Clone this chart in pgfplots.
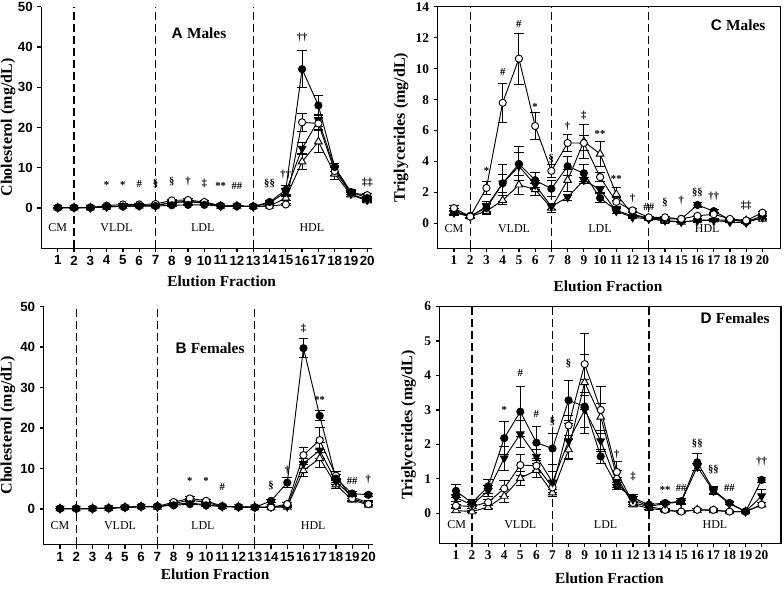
\documentclass[border=0pt]{standalone}
\usepackage{fontspec}
\setmainfont{Liberation Serif}
\setsansfont{Liberation Sans}
\usepackage{pgfplots}
\usepackage{pgfplotstable}
\pgfplotsset{compat=1.18}

% columns: a = filled circle, b = open circle, c = filled down triangle, d = open up triangle
\pgfplotstableread{
x a ea b eb c ec d ed
1 0.1 0.1 0.1 0.1 0.1 0.1 0.1 0.1
2 0.1 0.1 0.1 0.1 0.1 0.1 0.1 0.1
3 0.1 0.1 0.15 0.1 0.1 0.1 0.1 0.1
4 0.3 0.1 0.6 0.1 0.3 0.1 0.3 0.1
5 0.4 0.1 0.9 0.2 0.5 0.1 0.5 0.1
6 0.5 0.1 0.9 0.2 0.6 0.1 0.6 0.1
7 0.5 0.1 1.0 0.2 0.7 0.1 0.6 0.1
8 0.7 0.2 1.9 0.3 1.3 0.2 1.4 0.2
9 0.8 0.2 2.0 0.3 1.6 0.2 1.7 0.2
10 0.8 0.2 1.5 0.3 1.2 0.2 1.3 0.2
11 0.5 0.1 0.6 0.1 0.5 0.1 0.5 0.1
12 0.5 0.1 0.5 0.1 0.5 0.1 0.5 0.1
13 0.4 0.1 0.4 0.1 0.4 0.1 0.4 0.1
14 1.5 0.4 0.5 0.1 1.2 0.3 0.5 0.1
15 4.5 1.0 0.9 0.3 4.0 0.8 2.5 0.5
16 34.5 4.6 21.3 2.3 14.8 1.5 11.5 2.0
17 25.5 2.5 21.0 1.5 21.8 1.5 16.5 2.8
18 10.2 1.0 9.2 1.0 10.0 1.0 8.5 1.5
19 4.0 0.5 3.8 0.5 3.5 0.5 3.3 0.5
20 2.5 0.5 3.2 0.5 2.0 0.4 1.8 0.4
}\tabA

\pgfplotstableread{
x a ea b eb c ec d ed
1 0.1 0.1 0.1 0.1 0.1 0.1 0.1 0.1
2 0.1 0.1 0.1 0.1 0.1 0.1 0.1 0.1
3 0.1 0.1 0.1 0.1 0.1 0.1 0.1 0.1
4 0.2 0.1 0.2 0.1 0.2 0.1 0.2 0.1
5 0.4 0.1 0.4 0.1 0.4 0.1 0.4 0.1
6 0.6 0.1 0.6 0.1 0.6 0.1 0.6 0.1
7 0.7 0.1 0.6 0.1 0.5 0.1 0.5 0.1
8 0.9 0.2 1.7 0.3 1.1 0.2 1.3 0.2
9 1.2 0.2 2.6 0.4 1.5 0.3 2.2 0.3
10 0.9 0.2 2.0 0.3 1.0 0.2 1.6 0.3
11 0.6 0.1 0.7 0.1 0.6 0.1 0.6 0.1
12 0.5 0.1 0.5 0.1 0.5 0.1 0.5 0.1
13 0.4 0.1 0.4 0.1 0.4 0.1 0.4 0.1
14 2.0 0.3 0.4 0.1 0.5 0.1 0.4 0.1
15 6.5 1.3 1.2 0.3 0.6 0.2 0.5 0.1
16 39.7 2.4 13.3 1.8 11.2 1.2 9.5 1.5
17 23.0 1.2 17.0 3.0 14.5 2.0 12.5 2.3
18 7.5 1.0 8.2 1.0 6.8 0.8 6.0 1.0
19 3.8 0.5 2.6 0.4 3.0 0.4 2.2 0.3
20 3.5 0.4 1.2 0.3 1.5 0.3 1.0 0.2
}\tabB

\pgfplotstableread{
x a ea b eb c ec d ed
1 0.8 0.2 1.0 0.2 0.7 0.15 0.8 0.2
2 0.5 0.1 0.45 0.1 0.45 0.1 0.45 0.1
3 1.0 0.3 2.3 0.4 1.1 0.3 0.8 0.2
4 2.6 1.2 7.8 1.25 2.6 0.6 1.5 0.3
5 3.85 1.1 10.65 1.65 3.7 0.9 2.5 0.6
6 2.8 0.5 6.3 0.9 2.5 0.3 2.2 0.4
7 2.25 0.5 3.4 0.4 1.1 0.2 1.0 0.3
8 3.7 0.6 5.2 0.55 1.7 0.2 2.8 0.7
9 3.25 0.55 5.2 0.5 2.8 0.2 5.3 1.1
10 1.65 0.3 3.0 0.3 2.2 0.2 4.5 0.8
11 0.85 0.2 1.4 0.3 0.8 0.15 1.9 0.4
12 0.5 0.1 0.85 0.1 0.4 0.1 0.6 0.1
13 0.35 0.05 0.4 0.05 0.3 0.05 0.35 0.05
14 0.3 0.05 0.4 0.05 0.2 0.05 0.15 0.05
15 0.3 0.05 0.3 0.05 0.1 0.05 0.1 0.05
16 1.2 0.15 0.5 0.05 0.2 0.05 0.2 0.05
17 0.8 0.1 0.6 0.05 0.2 0.05 0.25 0.05
18 0.25 0.05 0.3 0.05 0.1 0.05 0.2 0.05
19 0.1 0.05 0.2 0.05 0.05 0.05 0.2 0.05
20 0.5 0.05 0.7 0.05 0.4 0.05 0.3 0.05
}\tabC

\pgfplotstableread{
x a ea b eb c ec d ed
1 0.65 0.2 0.22 0.05 0.45 0.1 0.08 0.05
2 0.3 0.1 0.2 0.05 0.25 0.1 0.05 0.03
3 0.78 0.2 0.32 0.08 0.65 0.15 0.18 0.05
4 2.18 0.48 0.72 0.22 1.6 0.35 0.5 0.2
5 2.95 0.72 1.4 0.3 2.3 0.4 1.02 0.2
6 2.05 0.47 1.38 0.15 1.65 0.2 1.25 0.2
7 1.88 0.45 0.75 0.2 0.9 0.3 0.6 0.1
8 3.28 0.58 2.55 0.3 2.1 0.5 1.85 0.3
9 3.1 0.78 4.33 0.9 3.0 0.5 3.8 0.8
10 1.65 0.2 3.0 0.68 2.1 0.3 2.8 0.4
11 0.8 0.1 1.2 0.3 0.9 0.15 1.05 0.2
12 0.45 0.1 0.3 0.05 0.4 0.1 0.25 0.05
13 0.25 0.03 0.2 0.03 0.2 0.03 0.15 0.03
14 0.3 0.05 0.1 0.03 0.28 0.03 0.08 0.03
15 0.35 0.08 0.05 0.03 0.33 0.05 0.05 0.03
16 1.48 0.25 0.1 0.03 1.35 0.1 0.1 0.03
17 0.68 0.1 0.1 0.03 0.65 0.1 0.08 0.03
18 0.3 0.05 0.05 0.03 0.28 0.03 0.05 0.03
19 0.05 0.03 0.05 0.03 0.05 0.03 0.05 0.03
20 0.97 0.07 0.25 0.05 0.5 0.2 0.25 0.05
}\tabD

\newcommand{\annfont}{\fontsize{8}{9}\selectfont\bfseries}
\newcommand{\regfont}{\fontsize{9}{10}\selectfont}
\newcommand{\ann}[3]{\node[font=\annfont,inner sep=0pt] at (axis cs:#1,#2) {#3};}

\pgfplotsset{
  errs/.style={error bars/.cd, y dir=both, y explicit,
    error bar style={line width=0.7pt,solid,black},
    error mark options={rotate=90, mark size=3.6pt, line width=0.7pt,black}},
  sA/.style={black, line width=0.7pt, mark=*, mark size=2.7pt, mark options={fill=black,solid}, errs},
  sB/.style={black, line width=0.7pt, mark=*, mark size=2.7pt, mark options={fill=white,solid}, errs},
  sC/.style={black, line width=0.7pt, mark=triangle*, mark size=3.3pt, mark options={fill=black,rotate=180,solid}, errs},
  sD/.style={black, line width=0.7pt, mark=triangle*, mark size=3.3pt, mark options={fill=white,solid}, errs},
  vdash/.style={black, line width=0.9pt, dash pattern=on 6pt off 3pt, mark=none, forget plot},
  panel/.style={scale only axis, clip=false, xmin=0, xtick={1,...,20},
    tick align=outside, major tick length=3pt, minor tick num=0,
    axis line style={line width=0.9pt},
    every tick/.style={black, line width=0.9pt},
    /pgf/number format/assume math mode=true,
    xticklabel style={yshift=1pt},
    xlabel={Elution Fraction},
    label style={font=\fontsize{11.5}{12}\selectfont\bfseries},
    ylabel style={font=\fontsize{12}{13}\selectfont\bfseries, rotate=0},
  },
  sansticks/.style={ticklabel style={font=\fontsize{10}{11}\selectfont\sffamily\bfseries}},
  serifticks/.style={ticklabel style={font=\fontsize{10}{11}\selectfont\bfseries}},
}

\begin{document}
\begin{tikzpicture}
\path[use as bounding box] (0,0) rectangle (588pt,441.75pt);

% ---------------- Panel A ----------------
\begin{axis}[panel, sansticks, at={(31.1pt,255.5pt)}, anchor=south west,
  width=248pt, height=181.2pt, xmax=20.3, ymin=-10, ymax=50, ytick={0,10,...,50},
  axis x line*=bottom, axis y line*=left,
  ylabel={Cholesterol (mg/dL)},
  xlabel style={at={(axis description cs:0.545,-0.135)}, anchor=center},
  ylabel style={at={(axis description cs:-0.101,0.5)}, anchor=center}]
\addplot[vdash] coordinates {(2,-10) (2,50)};
\addplot[vdash] coordinates {(7,-10) (7,50)};
\addplot[vdash] coordinates {(13,-10) (13,50)};
\addplot[sD] table[x=x,y=d,y error=ed]{\tabA};
\addplot[sC] table[x=x,y=c,y error=ec]{\tabA};
\addplot[sB] table[x=x,y=b,y error=eb]{\tabA};
\addplot[sA] table[x=x,y=a,y error=ea]{\tabA};
\node[font=\regfont] at (axis cs:1,-4.8) {CM};
\node[font=\regfont] at (axis cs:4.6,-4.8) {VLDL};
\node[font=\regfont] at (axis cs:9.9,-4.8) {LDL};
\node[font=\regfont] at (axis cs:16.6,-4.8) {HDL};
\node at (axis cs:9.67,43.5) {\fontsize{11.5}{12}\selectfont\bfseries\sffamily A\ \rmfamily Males};
\ann{4}{5.7}{*}\ann{5}{5.7}{*}\ann{6}{5.9}{\#}\ann{7}{6.0}{§}\ann{8}{6.6}{§}
\ann{9}{6.5}{†}\ann{10}{6.2}{‡}\ann{11}{5.6}{**}\ann{12}{5.6}{\#\#}
\ann{14}{6.0}{§§}\ann{15}{8.3}{††}\ann{16}{42.5}{††}\ann{20}{6.3}{‡‡}
\end{axis}

% ---------------- Panel B ----------------
\begin{axis}[panel, sansticks, at={(32.85pt,33.3pt)}, anchor=south west,
  width=247.1pt, height=178.6pt, xmax=20.3, ymin=-8.8, ymax=50, ytick={0,10,...,50},
  axis x line*=bottom, axis y line*=left,
  ylabel={Cholesterol (mg/dL)},
  xlabel style={at={(axis description cs:0.52,-0.125)}, anchor=center},
  ylabel style={at={(axis description cs:-0.109,0.5)}, anchor=center}]
\addplot[vdash] coordinates {(2,-8.8) (2,50)};
\addplot[vdash] coordinates {(7,-8.8) (7,50)};
\addplot[vdash] coordinates {(13,-8.8) (13,50)};
\addplot[sD] table[x=x,y=d,y error=ed]{\tabB};
\addplot[sC] table[x=x,y=c,y error=ec]{\tabB};
\addplot[sB] table[x=x,y=b,y error=eb]{\tabB};
\addplot[sA] table[x=x,y=a,y error=ea]{\tabB};
\node[font=\regfont] at (axis cs:1,-4.2) {CM};
\node[font=\regfont] at (axis cs:4.7,-4.2) {VLDL};
\node[font=\regfont] at (axis cs:9.8,-4.2) {LDL};
\node[font=\regfont] at (axis cs:16.6,-4.2) {HDL};
\node at (axis cs:10.24,39.7) {\fontsize{11.5}{12}\selectfont\bfseries\sffamily B\ \rmfamily Females};
\ann{9}{7.0}{*}\ann{10}{7.0}{*}\ann{11}{5.5}{\#}\ann{14}{5.8}{§}\ann{15}{9.4}{†}
\ann{16}{44.5}{‡}\ann{17}{26.8}{**}\ann{19}{7.0}{\#\#}\ann{20}{7.2}{†}
\end{axis}

% ---------------- Panel C ----------------
\begin{axis}[panel, serifticks, at={(328.3pt,255.5pt)}, anchor=south west,
  width=256.9pt, height=181.2pt, xmax=21.1, ymin=-1.6, ymax=14, ytick={0,2,...,14},
  tick pos=left,
  ylabel={Triglycerides (mg/dL)},
  xlabel style={at={(axis description cs:0.497,-0.159)}, anchor=center},
  ylabel style={at={(axis description cs:-0.107,0.5)}, anchor=center}]
\addplot[vdash] coordinates {(2,-1.6) (2,14)};
\addplot[vdash] coordinates {(7,-1.6) (7,14)};
\addplot[vdash] coordinates {(13,-1.6) (13,14)};
\addplot[sD] table[x=x,y=d,y error=ed]{\tabC};
\addplot[sC] table[x=x,y=c,y error=ec]{\tabC};
\addplot[sA] table[x=x,y=a,y error=ea]{\tabC};
\addplot[sB] table[x=x,y=b,y error=eb]{\tabC};
\node[font=\regfont] at (axis cs:1,-0.35) {CM};
\node[font=\regfont] at (axis cs:4.7,-0.35) {VLDL};
\node[font=\regfont] at (axis cs:10,-0.35) {LDL};
\node[font=\regfont] at (axis cs:16.6,-0.35) {HDL};
\node at (axis cs:18.5,12.8) {\fontsize{11.5}{12}\selectfont\bfseries\sffamily C\ \rmfamily Males};
\ann{3}{3.4}{*}\ann{4}{9.8}{\#}\ann{5}{12.9}{\#}\ann{6}{7.5}{*}\ann{7}{4.2}{§}
\ann{8}{6.3}{†}\ann{9}{7.0}{‡}\ann{10}{5.8}{**}\ann{11}{2.9}{**}\ann{12}{1.6}{†}
\ann{13}{1.07}{\#\#}\ann{14}{1.33}{§}\ann{15}{1.5}{†}\ann{16}{2.0}{§§}
\ann{17}{1.72}{††}\ann{19}{1.18}{‡‡}
\end{axis}

% ---------------- Panel D ----------------
\begin{axis}[panel, serifticks, at={(329.9pt,34.3pt)}, anchor=south west,
  width=255.8pt, height=177.5pt, xmax=21.2, ymin=-0.87, ymax=6, ytick={0,...,6},
  tick pos=left,
  ylabel={Triglycerides (mg/dL)},
  xlabel style={at={(axis description cs:0.497,-0.147)}, anchor=center},
  ylabel style={at={(axis description cs:-0.0915,0.5)}, anchor=center}]
\addplot[vdash] coordinates {(2,-0.87) (2,6)};
\addplot[vdash] coordinates {(7,-0.87) (7,6)};
\addplot[vdash] coordinates {(13,-0.87) (13,6)};
\addplot[sD] table[x=x,y=d,y error=ed]{\tabD};
\addplot[sB] table[x=x,y=b,y error=eb]{\tabD};
\addplot[sC] table[x=x,y=c,y error=ec]{\tabD};
\addplot[sA] table[x=x,y=a,y error=ea]{\tabD};
\node[font=\regfont] at (axis cs:1.05,-0.34) {CM};
\node[font=\regfont] at (axis cs:5.0,-0.34) {VLDL};
\node[font=\regfont] at (axis cs:10.3,-0.34) {LDL};
\node[font=\regfont] at (axis cs:17.1,-0.34) {HDL};
\node at (axis cs:18.35,5.66) {\fontsize{11.5}{12}\selectfont\bfseries\sffamily D\ \rmfamily Females};
\ann{4}{3.0}{*}\ann{5}{4.07}{\#}\ann{6}{2.87}{\#}\ann{7}{2.65}{§}\ann{8}{4.35}{§}
\ann{11}{1.7}{†}\ann{12}{1.06}{‡}\ann{14}{0.68}{**}\ann{15}{0.72}{\#\#}
\ann{16}{2.02}{§§}\ann{17}{1.27}{§§}\ann{18}{0.72}{\#\#}\ann{20}{1.5}{††}
\end{axis}
\end{tikzpicture}
\end{document}
